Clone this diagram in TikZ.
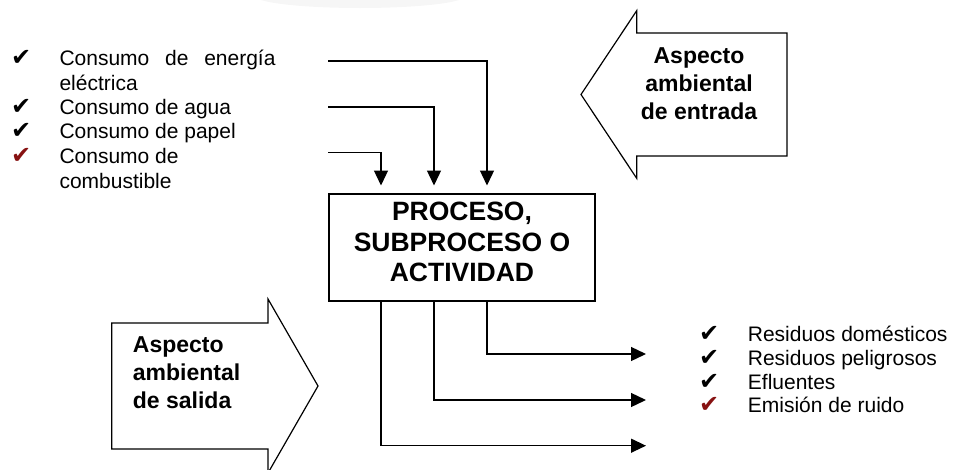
\documentclass[tikz,border=0pt]{standalone}
\usepackage{fontspec}
\setmainfont{Liberation Sans}
\newfontfamily\checkfont{DejaVu Sans}
\usetikzlibrary{arrows.meta}
\definecolor{tickred}{RGB}{135,18,18}
\begin{document}
\begin{tikzpicture}[x=1pt,y=-1pt,
  line/.style={line width=1.3pt},
  flow/.style={line width=1.3pt,-{Triangle[length=15pt,width=14pt]}},
  shapeline/.style={line width=1.2pt,line join=miter,fill=white},
  item/.style={anchor=base west,inner sep=0pt,font=\fontsize{21}{24}\selectfont},
  tick/.style={anchor=base west,inner sep=0pt,font=\checkfont\fontsize{24}{26}\selectfont},
  bigtitle/.style={inner sep=0pt,align=center,font=\bfseries\fontsize{26.5}{30.3}\selectfont},
  aspect/.style={inner sep=0pt,font=\bfseries\fontsize{23}{28}\selectfont}]
\useasboundingbox (0,0) rectangle (959,469);

% faint shading at the top edge
\fill[gray!7] (360,-4) ellipse [x radius=105, y radius=12];

% block arrow: incoming aspect
\draw[shapeline] (581,94.5) -- (636.7,10.7) -- (636.7,33) -- (787,33)
  -- (787,156) -- (636.7,156) -- (636.7,178.3) -- cycle;
\node[aspect,align=center] (entrada) at (699,84) {Aspecto\\ambiental\\de entrada};

% block arrow: outgoing aspect
\draw[shapeline] (111.7,323) -- (268,323) -- (268,299) -- (318,386)
  -- (268,473) -- (268,449) -- (111.7,449) -- cycle;
\node[aspect,align=left,anchor=base west] (salida) at (132.7,408) {Aspecto\\ambiental\\de salida};

% input aspects
\node[tick] (t1) at (11,65.7) {✔};
\node[tick] (t2) at (11,114.3) {✔};
\node[tick] (t3) at (11,138.3) {✔};
\node[tick,text=tickred] (t4) at (11,163) {✔};
\node[item] (i1a) at (59.3,65.7) {\makebox[216pt][s]{Consumo de energía}};
\node[item] (i1b) at (59.3,90) {eléctrica};
\node[item] (i2) at (59.3,114.3) {Consumo de agua};
\node[item] (i3) at (59.3,138.3) {Consumo de papel};
\node[item] (i4a) at (59.3,163) {Consumo de};
\node[item] (i4b) at (59.3,188) {combustible};

% central process box
\node[draw,line width=1.2pt,minimum width=266pt,minimum height=107pt,inner sep=0pt] (proc) at (462,247.5) {};
\node[bigtitle] (proctext) at (462,242) {PROCESO,\\SUBPROCESO O\\ACTIVIDAD};

% inflow connectors
\coordinate (in1) at (328,61);
\coordinate (in2) at (328,107);
\coordinate (in3) at (328,152.7);
\coordinate (down1) at (487,185.5);
\coordinate (down2) at (434,185.5);
\coordinate (down3) at (381,185.5);
\draw[flow] (in1) -| (down1);
\draw[flow] (in2) -| (down2);
\draw[flow] (in3) -| (down3);

% outflow connectors
\coordinate (out1) at (646,354);
\coordinate (out2) at (646,400);
\coordinate (out3) at (646,445.7);
\draw[flow] (proc.south -| down1) |- (out1);
\draw[flow] (proc.south -| down2) |- (out2);
\draw[flow] (proc.south -| down3) |- (out3);

% output aspects
\node[tick] (o1) at (699,341.7) {✔};
\node[tick] (o2) at (699,365.3) {✔};
\node[tick] (o3) at (699,389) {✔};
\node[tick,text=tickred] (o4) at (699,412.7) {✔};
\node[item] (r1) at (747.7,341.7) {Residuos domésticos};
\node[item] (r2) at (747.7,365.3) {Residuos peligrosos};
\node[item] (r3) at (747.7,389) {Efluentes};
\node[item] (r4) at (747.7,412.7) {Emisión de ruido};
\end{tikzpicture}
\end{document}
